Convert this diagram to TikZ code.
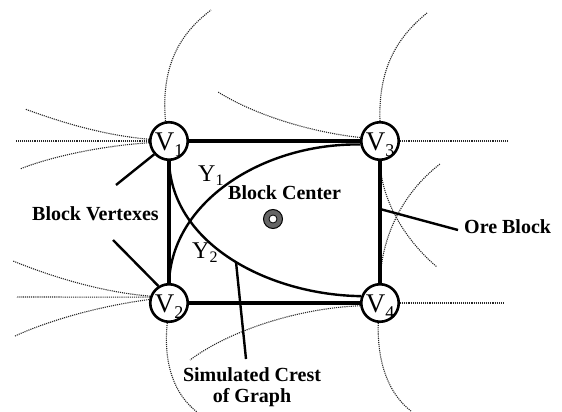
\documentclass[tikz,border=0pt]{standalone}
\usepackage{fontspec}
\setmainfont{Liberation Serif}
\usetikzlibrary{backgrounds}
\newcommand\vlab[1]{V\raisebox{-6pt}{\fontsize{18}{18}\selectfont #1}}
\newcommand\ylab[1]{Y\raisebox{-4pt}{\fontsize{16}{16}\selectfont #1}}
\begin{document}
\begin{tikzpicture}[x=1pt,y=-1pt,
  vert/.style={circle, draw, line width=2.6pt, fill=white, minimum size=37.5pt, inner sep=0pt, text height=18pt, text depth=0pt, font=\fontsize{27}{27}\selectfont},
  blockedge/.style={line width=3.4pt},
  crest/.style={line width=2.4pt},
  pointer/.style={line width=2.4pt},
  field/.style={densely dotted, line width=1.1pt, black!85},
  lbl/.style={font=\bfseries\fontsize{20}{21}\selectfont, inner sep=0pt},
  ylbl/.style={font=\fontsize{24}{24}\selectfont, inner sep=0pt},
]
\useasboundingbox (0,0) rectangle (562,412);

% vertices
\node[vert] (V1) at (169,141) {\vlab{1}};
\node[vert] (V3) at (380,141) {\vlab{3}};
\node[vert] (V2) at (169,303) {\vlab{2}};
\node[vert] (V4) at (380,303) {\vlab{4}};

% labels
\node[lbl, anchor=base west] (bv) at (32,220) {Block Vertexes};
\node[lbl, anchor=base west] (bcl) at (228,199) {Block Center};
\node[lbl, anchor=base west] (ob) at (464,233) {Ore Block};
\node[lbl, align=center, anchor=base] (sc) at (252,402) {Simulated Crest\\of Graph};
\node[ylbl, anchor=base west] (Y1) at (198,181) {\ylab{1}};
\node[ylbl, anchor=base west] (Y2) at (192,258) {\ylab{2}};

% block center mark
\node[circle, minimum size=19pt, inner sep=0pt, fill=black!60, draw=black, line width=1pt] (ring) at (273,219) {};
\filldraw[fill=white, draw=black, line width=0.8pt] (ring.center) circle (4pt);

% free ends of pointers
\coordinate (bvA) at (116,185);
\coordinate (bvB) at (113,240);
\coordinate (obE) at (380,209);
\coordinate (obT) at (458,230);
\coordinate (crA) at (236,262);
\coordinate (crB) at (246,359);

\begin{pgfonlayer}{background}
% field lines
\draw[field] (V1.180) -- (15,141);
\draw[field] (V1.175) .. controls (100,135) and (55,120) .. (25,109);
\draw[field] (V1.185) .. controls (100,146) and (50,157) .. (20,169);
\draw[field] (V1.100) .. controls (160,60) and (185,30) .. (211,10);
\draw[field] (V3.90) .. controls (378,65) and (400,35) .. (427,13);
\draw[field] (V3.east) -- (508,141);
\draw[field] (V3.170) .. controls (310,132) and (255,115) .. (218,92);
\draw[field] (V3.270) .. controls (381,200) and (405,240) .. (437,267);
\draw[field] (V4.90) .. controls (381,240) and (400,195) .. (440,164);
\draw[field] (V4.east) -- (503,303);
\draw[field] (V4.188) .. controls (300,308) and (230,330) .. (190,360);
\draw[field] (V4.265) .. controls (377,365) and (390,395) .. (411,411);
\draw[field] (V2.163) -- (17,297);
\draw[field] (V2.160) .. controls (100,292) and (50,276) .. (13,261);
\draw[field] (V2.170) .. controls (100,306) and (50,320) .. (15,336);
\draw[field] (V2.265) .. controls (163,365) and (175,395) .. (197,412);
% block edges
\draw[blockedge] (V1) -- (V3);
\draw[blockedge] (V3) -- (V4);
\draw[blockedge] (V4) -- (V2);
\draw[blockedge] (V2) -- (V1);
% crest curves
\draw[crest] (V2.north) .. controls (172,200) and (265,143) .. (V3.190);
\draw[crest] (V1.south) .. controls (172,245) and (270,295) .. (V4.160);
% pointers
\draw[pointer] (bvA) -- (V1.222);
\draw[pointer] (bvB) -- (V2.122);
\draw[pointer] (obT) -- (obE);
\draw[pointer] (crA) -- (crB);
\end{pgfonlayer}
\end{tikzpicture}
\end{document}
